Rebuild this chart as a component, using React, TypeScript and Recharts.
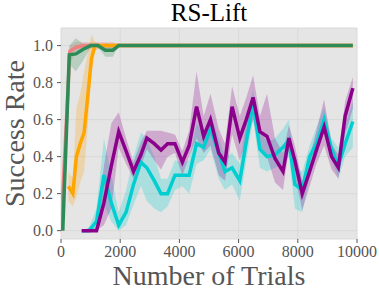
import { ComposedChart, Line, Area, XAxis, YAxis, CartesianGrid } from "recharts";

document.body.style.margin = "0";

const FONT = "'Liberation Serif', 'DejaVu Serif', serif";

const xTicks = [0, 2000, 4000, 6000, 8000, 10000];
const yTicks = [0, 0.2, 0.4, 0.6, 0.8, 1.0];

// red (light coral)
const redTrials = [0, 300, 500, 750, 1000, 1250, 1500, 1750, 2000, 9860];
const redMean = [0, 0.97, 0.99, 1, 1, 1, 1, 1, 1, 1];
const redLow = [0, 0.9, 0.97, 0.98, 0.98, 0.98, 0.98, 0.98, 1, 1];
const redHigh = [0, 1.0, 1.02, 1.02, 1.02, 1.02, 1.02, 1.02, 1, 1];

// green
const greenTrials = [60, 280, 500, 750, 1000, 1250, 1500, 1750, 1950, 9860];
const greenMean = [0, 0.95, 0.955, 0.98, 1, 1, 0.975, 0.975, 1, 1];
const greenLow = [0, 0.9, 0.86, 0.92, 0.99, 0.99, 0.94, 0.94, 1, 1];
const greenHigh = [0, 1.0, 1.04, 1.01, 1.01, 1.01, 1.0, 1.0, 1, 1];

// orange
const orangeTrials = [250, 400, 520, 650, 780, 900, 1030, 1150, 1400, 9860];
const orangeMean = [0.24, 0.2, 0.4, 0.47, 0.53, 0.72, 0.93, 1, 1, 1];
const orangeLow = [0.16, 0.13, 0.18, 0.26, 0.32, 0.55, 0.85, 0.97, 1, 1];
const orangeHigh = [0.32, 0.28, 0.66, 0.74, 0.86, 0.96, 1.06, 1.02, 1, 1];

// purple and cyan share the same evaluation points
const pcTrials = [
  700, 950, 1200, 1450, 1700, 1950, 2200, 2450, 2700, 2900, 3150, 3380, 3600,
  3850, 4100, 4330, 4580, 4820, 5050, 5330, 5540, 5780, 6040, 6260, 6490, 6720,
  6960, 7230, 7500, 7700, 7900, 8150, 8400, 8630, 8890, 9140, 9370, 9600, 9860,
];
const purpleMean = [
  0, 0, 0, 0.15, 0.35, 0.535, 0.43, 0.32, 0.41, 0.5, 0.47, 0.436, 0.47, 0.47,
  0.37, 0.46, 0.67, 0.51, 0.6, 0.42, 0.37, 0.67, 0.5, 0.6, 0.72, 0.535, 0.51,
  0.39, 0.32, 0.5, 0.38, 0.2, 0.32, 0.436, 0.56, 0.4, 0.34, 0.62, 0.77,
];
const purpleLow = [
  0, 0, 0, 0.03, 0.12, 0.45, 0.36, 0.28, 0.35, 0.44, 0.38, 0.33, 0.4, 0.42,
  0.3, 0.4, 0.5, 0.42, 0.46, 0.3, 0.27, 0.52, 0.38, 0.48, 0.6, 0.44, 0.4, 0.26,
  0.22, 0.44, 0.3, 0.11, 0.24, 0.36, 0.46, 0.33, 0.28, 0.52, 0.66,
];
const purpleHigh = [
  0, 0, 0.02, 0.35, 0.58, 0.64, 0.5, 0.37, 0.48, 0.54, 0.54, 0.54, 0.53, 0.52,
  0.43, 0.54, 0.86, 0.62, 0.74, 0.55, 0.47, 0.78, 0.62, 0.72, 0.84, 0.62, 0.74,
  0.5, 0.42, 0.57, 0.46, 0.27, 0.4, 0.54, 0.71, 0.47, 0.41, 0.7, 0.83,
];
const cyanMean = [
  0, 0, 0.05, 0.3, 0.15, 0.03, 0.1, 0.25, 0.37, 0.34, 0.27, 0.2, 0.2, 0.3, 0.3,
  0.3, 0.47, 0.45, 0.55, 0.42, 0.32, 0.34, 0.27, 0.48, 0.69, 0.44, 0.4, 0.41,
  0.45, 0.49, 0.25, 0.22, 0.4, 0.47, 0.6, 0.44, 0.35, 0.47, 0.59,
];
const cyanLow = [
  0, 0, 0, 0.14, 0.05, 0.0, 0.03, 0.14, 0.24, 0.16, 0.12, 0.1, 0.13, 0.22, 0.24,
  0.2, 0.36, 0.38, 0.44, 0.28, 0.22, 0.25, 0.16, 0.38, 0.6, 0.34, 0.32, 0.34,
  0.36, 0.4, 0.12, 0.1, 0.3, 0.4, 0.54, 0.38, 0.28, 0.4, 0.45,
];
const cyanHigh = [
  0, 0.02, 0.12, 0.5, 0.3, 0.1, 0.22, 0.4, 0.53, 0.5, 0.4, 0.28, 0.28, 0.38,
  0.37, 0.38, 0.58, 0.52, 0.63, 0.5, 0.4, 0.42, 0.36, 0.6, 0.76, 0.54, 0.48,
  0.5, 0.55, 0.6, 0.34, 0.32, 0.46, 0.56, 0.67, 0.5, 0.45, 0.56, 0.7,
];

type Row = { t: number; [key: string]: number | number[] };
const rowMap = new Map<number, Row>();
function addSeries(key: string, trials: number[], mean: number[], low: number[], high: number[]) {
  trials.forEach((t, i) => {
    const row = rowMap.get(t) ?? { t };
    row[key] = mean[i];
    row[key + "Band"] = [low[i], high[i]];
    rowMap.set(t, row);
  });
}
addSeries("red", redTrials, redMean, redLow, redHigh);
addSeries("green", greenTrials, greenMean, greenLow, greenHigh);
addSeries("orange", orangeTrials, orangeMean, orangeLow, orangeHigh);
addSeries("purple", pcTrials, purpleMean, purpleLow, purpleHigh);
addSeries("cyan", pcTrials, cyanMean, cyanLow, cyanHigh);
const data = [...rowMap.values()].sort((a, b) => a.t - b.t);

const series = [
  { key: "red", color: "#f08080" },
  { key: "orange", color: "#ffa500" },
  { key: "cyan", color: "#00ced1" },
  { key: "purple", color: "#8b008b" },
  { key: "green", color: "#2e8b57" },
];

const tickStyle = { fontFamily: FONT, fontSize: 16, fill: "#555" };

export default function App() {
  return (
    <div style={{ position: "relative", width: 379, height: 294 }}>
      <div
        style={{
          position: "absolute",
          left: 209,
          top: 0,
          transform: "translateX(-50%)",
          fontFamily: FONT,
          fontSize: 25,
          lineHeight: "26px",
          color: "#000",
          whiteSpace: "nowrap",
        }}
      >
        RS-Lift
      </div>
      <ComposedChart
        width={379}
        height={294}
        data={data}
        margin={{ top: 28, right: 22, bottom: 0, left: 0 }}
      >
        <CartesianGrid fill="#e5e5e5" stroke="#d9d9d9" />
        <XAxis
          type="number"
          dataKey="t"
          domain={[0, 10000]}
          ticks={xTicks}
          allowDataOverflow
          height={55}
          axisLine={false}
          tickLine={{ stroke: "#555" }}
          tickSize={4}
          tickMargin={3}
          tick={tickStyle}
          label={{
            content: () => (
              <text
                x={209}
                y={285}
                textAnchor="middle"
                fontFamily={FONT}
                fontSize={28}
                fill="#555"
              >
                Number of Trials
              </text>
            ),
          }}
        />
        <YAxis
          type="number"
          domain={[-0.045, 1.095]}
          ticks={yTicks}
          allowDataOverflow
          width={61}
          axisLine={false}
          tickLine={{ stroke: "#555" }}
          tickSize={4}
          tickMargin={4}
          tick={tickStyle}
          tickFormatter={(v: number) => v.toFixed(1)}
          label={{
            content: () => (
              <text
                x={24}
                y={133.5}
                transform="rotate(-90, 24, 133.5)"
                textAnchor="middle"
                fontFamily={FONT}
                fontSize={28}
                fill="#555"
              >
                Success Rate
              </text>
            ),
          }}
        />
        {series.map((s) => (
          <Area
            key={s.key + "Band"}
            type="linear"
            dataKey={s.key + "Band"}
            stroke="none"
            fill={s.color}
            fillOpacity={0.25}
            connectNulls
            isAnimationActive={false}
            activeDot={false}
          />
        ))}
        {series.map((s) => (
          <Line
            key={s.key}
            type="linear"
            dataKey={s.key}
            stroke={s.color}
            strokeWidth={3.5}
            dot={false}
            activeDot={false}
            connectNulls
            isAnimationActive={false}
          />
        ))}
      </ComposedChart>
    </div>
  );
}
